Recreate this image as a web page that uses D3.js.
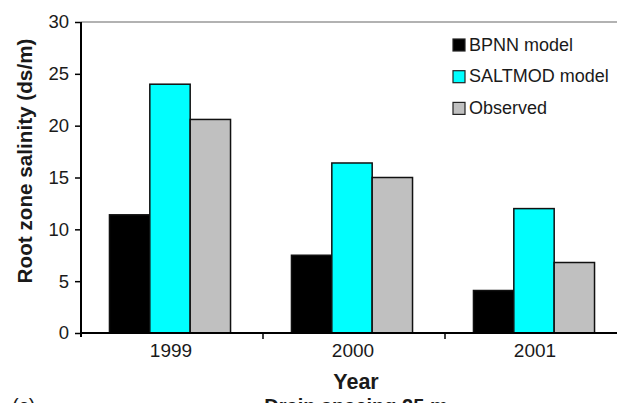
<!DOCTYPE html>
<html>
<head>
<meta charset="utf-8">
<script src="https://cdn.jsdelivr.net/npm/d3@7"></script>
<style>
  html, body { margin: 0; padding: 0; background: #fff; }
  svg { display: block; font-family: "Liberation Sans", Arial, sans-serif; }
</style>
</head>
<body>
<svg id="chart" width="617" height="403"></svg>
<script>
// Root zone salinity by year, drain spacing 25 m
const years = ["1999", "2000", "2001"];
const seriesNames = ["BPNN model", "SALTMOD model", "Observed"];
const bpnn = [11.4, 7.5, 4.1];
const saltmod = [24.0, 16.4, 12.0];
const observed = [20.6, 15.0, 6.8];
const yTicks = [0, 5, 10, 15, 20, 25, 30];
const colors = ["#000000", "#00ffff", "#c0c0c0"];

const values = [bpnn, saltmod, observed];
const rows = years.map((yr, i) => ({
  year: yr,
  vals: seriesNames.map((s, k) => ({ series: s, value: values[k][i] }))
}));

const svg = d3.select("#chart");
const plotLeft = 81, plotRight = 627, plotTop = 22, plotBottom = 333;
const textColor = "#1a1a1a";

const x = d3.scaleBand().domain(years).range([plotLeft, plotRight]).paddingInner(0).paddingOuter(0);
const xs = d3.scaleBand().domain(seriesNames).range([0, x.bandwidth()]).paddingInner(0).paddingOuter(0.755);
const y = d3.scaleLinear().domain([0, 30]).range([plotBottom, plotTop]);
const color = d3.scaleOrdinal().domain(seriesNames).range(colors);

// top frame line
svg.append("line")
  .attr("x1", plotLeft).attr("x2", 617)
  .attr("y1", y(30)).attr("y2", y(30))
  .attr("stroke", "#999").attr("stroke-width", 1.5);

// bars
const groups = svg.append("g").selectAll("g").data(rows).join("g")
  .attr("transform", d => `translate(${x(d.year) - 2},0)`);
groups.selectAll("rect").data(d => d.vals).join("rect")
  .attr("x", d => xs(d.series))
  .attr("width", xs.bandwidth())
  .attr("y", d => y(d.value))
  .attr("height", d => y(0) - y(d.value))
  .attr("fill", d => color(d.series))
  .attr("stroke", "#111")
  .attr("stroke-width", 1.5);

// y axis
const yAxis = svg.append("g")
  .attr("transform", `translate(${plotLeft},0)`)
  .call(d3.axisLeft(y).tickValues(yTicks).tickSize(6).tickSizeOuter(0).tickPadding(6));
yAxis.select(".domain").remove();
yAxis.append("line")
  .attr("x1", 0).attr("x2", 0)
  .attr("y1", y(30)).attr("y2", y(0) + 4)
  .attr("stroke", "#000").attr("stroke-width", 2);
yAxis.selectAll(".tick line").attr("stroke", "#000").attr("stroke-width", 1.5);
yAxis.selectAll(".tick text")
  .attr("font-size", 18.5).attr("fill", textColor)
  .attr("font-family", "Liberation Sans, Arial, sans-serif");

// x axis: labels at band centres, tick marks at band boundaries
const xAxis = svg.append("g")
  .attr("transform", `translate(0,${plotBottom})`)
  .call(d3.axisBottom(x).tickSize(0).tickPadding(11));
xAxis.select(".domain").remove();
xAxis.selectAll(".tick").attr("transform", d => `translate(${x(d) + x.bandwidth() / 2 - 1},0)`);
xAxis.append("line")
  .attr("x1", plotLeft).attr("x2", 617).attr("y1", 0).attr("y2", 0)
  .attr("stroke", "#000").attr("stroke-width", 2);
xAxis.selectAll(".tick text")
  .attr("font-size", 19).attr("fill", textColor)
  .attr("font-family", "Liberation Sans, Arial, sans-serif");
xAxis.selectAll("line.bound").data(years.slice(1)).join("line")
  .attr("class", "bound")
  .attr("x1", d => x(d)).attr("x2", d => x(d))
  .attr("y1", 0).attr("y2", 6)
  .attr("stroke", "#000").attr("stroke-width", 1.5);

// axis titles
svg.append("text")
  .attr("transform", `translate(32,161) rotate(-90)`)
  .attr("text-anchor", "middle")
  .attr("font-size", 20.7).attr("font-weight", "bold").attr("fill", textColor)
  .text("Root zone salinity (ds/m)");
svg.append("text")
  .attr("x", 356).attr("y", 389)
  .attr("text-anchor", "middle")
  .attr("font-size", 21.5).attr("font-weight", "bold").attr("fill", textColor)
  .text("Year");
svg.append("text")
  .attr("x", 356).attr("y", 412.5)
  .attr("text-anchor", "middle")
  .attr("font-size", 20).attr("font-weight", "bold").attr("fill", textColor)
  .text("Drain spacing 25 m");
svg.append("text")
  .attr("x", 12).attr("y", 413)
  .attr("font-size", 20).attr("fill", textColor)
  .text("(c)");

// legend
const legend = svg.append("g").selectAll("g").data(seriesNames).join("g")
  .attr("transform", (d, i) => `translate(453,${44 + i * 31.7})`);
legend.append("rect")
  .attr("x", 0).attr("y", -5).attr("width", 12).attr("height", 12)
  .attr("fill", d => color(d)).attr("stroke", "#222").attr("stroke-width", 1.2);
legend.append("text")
  .attr("x", 16).attr("y", 6.5)
  .attr("font-size", 18).attr("fill", textColor)
  .text(d => d);
</script>
</body>
</html>
